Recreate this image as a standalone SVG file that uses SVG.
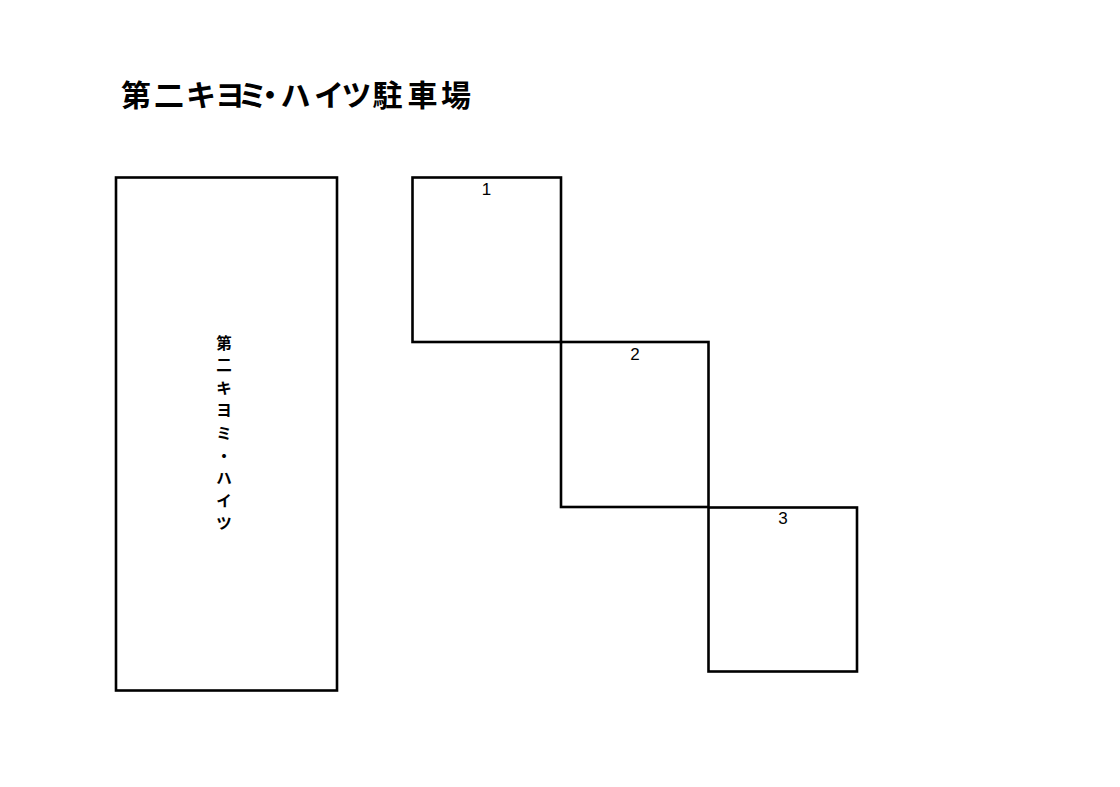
<svg xmlns="http://www.w3.org/2000/svg" width="1120" height="787" viewBox="0 0 1120 787">
<style>
.box{fill:none;stroke:#000;stroke-width:2.6}
.title{font-family:"Noto Sans CJK JP","Noto Sans CJK SC",sans-serif;font-weight:bold;font-size:30px;fill:#000;text-anchor:middle}
.vt{font-family:"Noto Sans CJK JP","Noto Sans CJK SC",sans-serif;font-weight:bold;font-size:15.5px;fill:#000;text-anchor:middle}
.num{font-family:"Liberation Sans",Arial,sans-serif;font-size:17px;fill:#000;text-anchor:middle}
</style>
<rect width="1120" height="787" fill="#fff"/>
<text class="title" x="136 169 201 230 252.5 270 295.5 329 356.5 387.5 422.5 456" y="105.5">第二キヨミ・ハイツ駐車場</text>
<g id="building">
<rect class="box" x="116" y="177.5" width="221" height="513"/>
<text class="vt" x="224" y="348.6">第</text>
<text class="vt" x="224" y="371.2">二</text>
<text class="vt" x="224" y="393.8">キ</text>
<text class="vt" x="224" y="416.4">ヨ</text>
<text class="vt" x="224" y="439">ミ</text>
<text class="vt" x="224" y="461.6">・</text>
<text class="vt" x="224" y="484.2">ハ</text>
<text class="vt" x="224" y="506.8">イ</text>
<text class="vt" x="224" y="529.4">ツ</text>
</g>
<g id="space1">
<rect class="box" x="412.5" y="177.5" width="148.5" height="164.5"/>
<text class="num" x="486.5" y="195">1</text>
</g>
<g id="space2">
<rect class="box" x="561" y="342" width="147.5" height="165"/>
<text class="num" x="635" y="360">2</text>
</g>
<g id="space3">
<rect class="box" x="708.5" y="507.5" width="148.5" height="164"/>
<text class="num" x="783" y="524">3</text>
</g>
<g id="connectors"/>
</svg>
